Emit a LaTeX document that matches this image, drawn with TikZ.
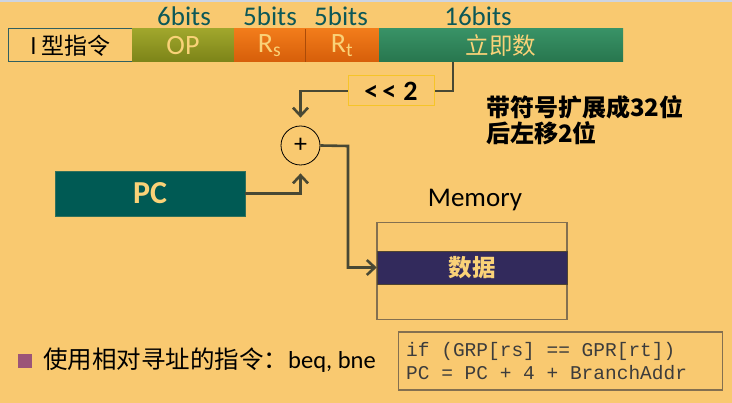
\documentclass[tikz,border=0pt]{standalone}
\usepackage{fontspec}
\setmainfont{Carlito}
\setmonofont{Liberation Mono}
\newfontfamily\cjk{Noto Sans CJK SC}
\usepackage{tikz}
\usetikzlibrary{arrows.meta}
\definecolor{bgyellow}{RGB}{249,201,112}
\definecolor{topstrip}{RGB}{205,212,226}
\definecolor{bitsteal}{RGB}{12,88,88}
\definecolor{boxteal}{RGB}{50,96,96}
\definecolor{olive1}{RGB}{160,166,44}
\definecolor{olive2}{RGB}{124,132,24}
\definecolor{orange1}{RGB}{242,124,26}
\definecolor{orange2}{RGB}{214,94,10}
\definecolor{green1}{RGB}{56,146,102}
\definecolor{green2}{RGB}{40,118,78}
\definecolor{pcteal}{RGB}{0,90,84}
\definecolor{datapurple}{RGB}{50,42,92}
\definecolor{lighttext}{RGB}{250,210,120}
\definecolor{wire}{RGB}{72,72,52}
\definecolor{shiftedge}{RGB}{246,196,40}
\definecolor{bulletpink}{RGB}{156,84,120}
\definecolor{codeedge}{RGB}{132,112,80}
\definecolor{codetext}{RGB}{60,60,60}
\tikzset{
  field/.style={draw=none, minimum height=33pt, inner sep=0pt, text=lighttext,
    font=\fontsize{24}{26}\selectfont},
  bitslabel/.style={text=bitsteal, font=\fontsize{27}{29}\selectfont, inner sep=0pt},
  wireline/.style={draw=wire, line width=2.6pt},
  wirearrow/.style={wireline, -{Straight Barb[length=8pt,width=15pt,line width=2.6pt]}}
}

\begin{document}
\begin{tikzpicture}[x=1pt,y=-1pt]
  \fill[bgyellow] (0,0) rectangle (732,403);
  \fill[topstrip] (0,0) rectangle (732,2.5);
  \useasboundingbox (0,0) rectangle (732,403);

  % instruction format
  \node[draw=boxteal, line width=1pt, minimum width=124pt, minimum height=33pt, inner sep=0pt,
    font=\cjk\fontsize{23}{25}\selectfont] (itype) at (70.5,45.5) {I 型指令};
  \node[field, minimum width=102pt, top color=olive1, bottom color=olive2,
    font=\fontsize{28}{30}\selectfont] (op) at (183,45.5) {OP};
  \node[field, minimum width=71pt, top color=orange1, bottom color=orange2,
    font=\fontsize{28}{30}\selectfont] (rs) at (269.5,45.5) {R\textsubscript{s}};
  \node[field, minimum width=74pt, top color=orange1, bottom color=orange2,
    font=\fontsize{28}{30}\selectfont] (rt) at (342,45.5) {R\textsubscript{t}};
  \node[field, minimum width=244pt, top color=green1, bottom color=green2,
    font=\cjk\fontsize{23.5}{25}\selectfont] (imm) at (501,45.5) {立即数};
  \draw[orange2!80!black, line width=0.6pt] (rs.north east) -- (rs.south east);

  \node[bitslabel] (opbits) at (184,16) {6bits};
  \node[bitslabel] (rsbits) at (270,16) {5bits};
  \node[bitslabel] (rtbits) at (341,16) {5bits};
  \node[bitslabel] (immbits) at (478,16) {16bits};

  % shift and adder
  \node[draw=shiftedge, line width=1pt, minimum width=86pt, minimum height=30pt, inner sep=0pt,
    font=\bfseries\fontsize{28}{30}\selectfont] (shift) at (391,91) {<{}\kern4pt<{}\kern7pt2};
  \node[draw=black, line width=0.8pt, circle, minimum size=39pt, inner sep=0pt,
    font=\fontsize{26}{28}\selectfont] (adder) at (300.5,145.5) {+};
  \node[anchor=west, align=left, inner sep=0pt,
    font=\cjk\bfseries\fontsize{24}{26.5}\selectfont] (note) at (486,120) {带符号扩展成32位\\后左移2位};

  \coordinate (immout) at (453,62);
  \draw[wireline] (immout) |- (shift.east);
  \draw[wirearrow, shorten >=8pt] (shift.west) -| (adder.north);

  % PC
  \node[fill=pcteal, draw=pcteal!80!bgyellow, minimum width=190pt, minimum height=45pt, inner sep=0pt,
    text=lighttext, font=\bfseries\fontsize{32}{34}\selectfont] (pc) at (150,193.5) {PC};
  \draw[wirearrow, shorten >=8pt] (pc.east) -| (adder.south);

  % memory
  \node[font=\fontsize{27}{29}\selectfont, inner sep=0pt] (memlabel) at (475,200) {Memory};
  \node[draw=codeedge, line width=1.2pt, minimum width=190pt, minimum height=97pt, inner sep=0pt] (memory) at (472,271) {};
  \node[fill=datapurple, draw=codeedge!60!black, line width=0.6pt, minimum width=190pt, minimum height=33pt,
    inner sep=0pt, text=lighttext, font=\cjk\bfseries\fontsize{23.5}{25}\selectfont] (data) at (472,267.5) {数据};
  \coordinate (bend) at (348,146);
  \draw[wirearrow] (adder.east) -- (bend) |- (data.west);

  % bottom line
  \fill[bulletpink] (18,354) rectangle (32,368);
  \node[anchor=west, inner sep=0pt, font=\fontsize{24.5}{26}\selectfont] (usage) at (43,360)
    {{\cjk 使用相对寻址的指令：}beq, bne};
  \node[draw=codeedge, line width=1.2pt, minimum width=324pt, minimum height=58pt, inner sep=0pt] (codebox) at (560.5,361) {};
  \node[anchor=west, align=left, inner sep=0pt, text=codetext,
    font=\ttfamily\fontsize{19.5}{23}\selectfont] (code) at (406,361)
    {if (GRP[rs] == GPR[rt])\\PC = PC + 4 + BranchAddr};
\end{tikzpicture}
\end{document}
